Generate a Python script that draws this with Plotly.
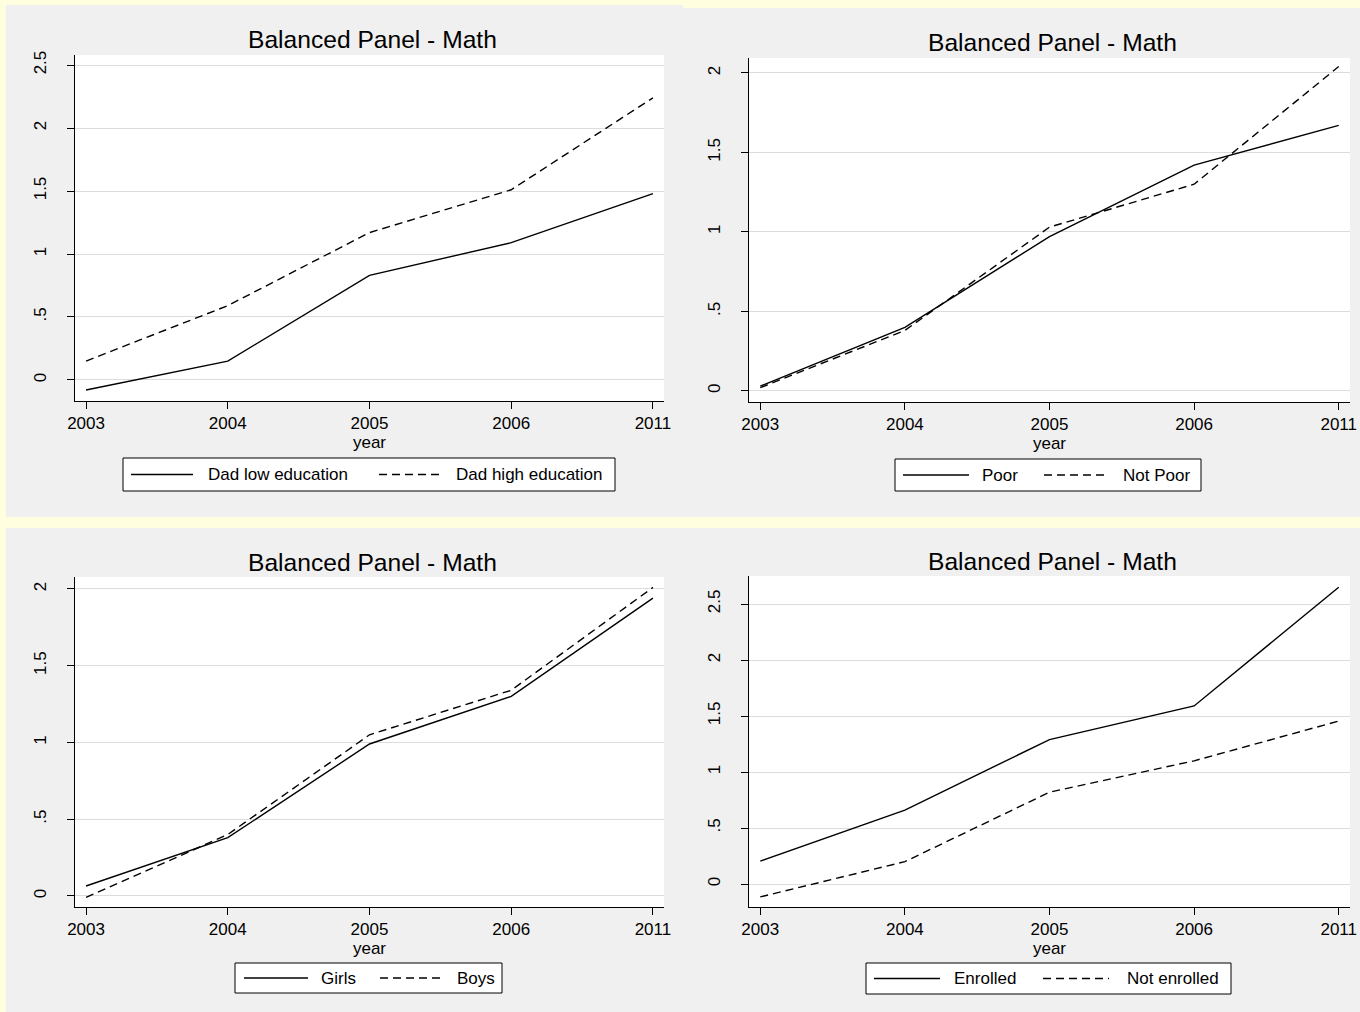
import plotly.graph_objects as go

W, H = 1360, 1012

# ---- data -----------------------------------------------------------------
years = ["2003", "2004", "2005", "2006", "2011"]

dad_low = [-0.08, 0.15, 0.83, 1.09, 1.48]
dad_high = [0.15, 0.59, 1.17, 1.51, 2.24]

poor = [0.03, 0.40, 0.97, 1.42, 1.67]
not_poor = [0.02, 0.38, 1.03, 1.30, 2.04]

girls = [0.065, 0.38, 0.99, 1.30, 1.94]
boys = [-0.01, 0.40, 1.05, 1.34, 2.01]

enrolled = [0.205, 0.66, 1.29, 1.59, 2.65]
not_enrolled = [-0.115, 0.20, 0.82, 1.10, 1.455]

ticks_to_2 = [0, 0.5, 1, 1.5, 2]
ticks_to_25 = [0, 0.5, 1, 1.5, 2, 2.5]

panel_title = "Balanced Panel - Math"
x_title = "year"

# ---- styling --------------------------------------------------------------
FONT = "Liberation Sans, Arial, sans-serif"
BG_OUTER = "#FFFFE0"
BG_PANEL = "#F0F0F0"
GRID = "#DCDCDC"
DASH = "8px,5px"
LW = 1.4


def px(x):
    return x / W


def py(y):
    return 1 - y / H


def fmt(v):
    s = f"{v:g}"
    return s[1:] if s.startswith("0.") else s


# pixel boxes: plot area (x0, x1, ytop, ybottom), y range, legend layout
panels = [
    dict(series=[("Dad low education", dad_low, "solid"),
                 ("Dad high education", dad_high, DASH)],
         yticks=ticks_to_25, yrange=[-0.167, 2.58],
         plot=(75, 664, 55, 401),
         legend=dict(box=(123, 615, 458, 491),
                     items=[(131, 193, 206), (379, 442, 454)])),
    dict(series=[("Poor", poor, "solid"),
                 ("Not Poor", not_poor, DASH)],
         yticks=ticks_to_2, yrange=[-0.07, 2.094],
         plot=(749, 1350, 58, 402),
         legend=dict(box=(895, 1201, 459, 491),
                     items=[(903, 969, 980), (1044, 1109, 1121)])),
    dict(series=[("Girls", girls, "solid"),
                 ("Boys", boys, DASH)],
         yticks=ticks_to_2, yrange=[-0.072, 2.078],
         plot=(75, 664, 577, 907),
         legend=dict(box=(235, 502, 963, 993),
                     items=[(244, 308, 319), (380, 444, 455)])),
    dict(series=[("Enrolled", enrolled, "solid"),
                 ("Not enrolled", not_enrolled, DASH)],
         yticks=ticks_to_25, yrange=[-0.205, 2.75],
         plot=(749, 1350, 576, 907),
         legend=dict(box=(866, 1231, 963, 994),
                     items=[(874, 940, 952), (1043, 1109, 1125)])),
]

fig = go.Figure()
shapes = []
annotations = []

# grey panel backgrounds on the pale yellow page
for x0, x1, y0, y1 in [(6, 683, 5, 517), (683, 1360, 8, 517), (6, 1360, 528, 1012)]:
    shapes.append(dict(type="rect", xref="paper", yref="paper",
                       x0=px(x0), x1=px(x1), y0=py(y1), y1=py(y0),
                       fillcolor=BG_PANEL, line=dict(width=0), layer="below"))

layout_axes = {}
for i, p in enumerate(panels, start=1):
    xa = "x" if i == 1 else f"x{i}"
    ya = "y" if i == 1 else f"y{i}"
    x0, x1, yt, yb = p["plot"]

    # white plot region
    shapes.append(dict(type="rect", xref="paper", yref="paper",
                       x0=px(x0), x1=px(x1), y0=py(yb), y1=py(yt),
                       fillcolor="white", line=dict(width=0), layer="below"))

    for name, vals, dash in p["series"]:
        fig.add_trace(go.Scatter(x=years, y=vals, mode="lines", name=name,
                                 line=dict(color="black", width=LW, dash=dash),
                                 xaxis=xa, yaxis=ya, showlegend=False,
                                 hoverinfo="x+y+name"))

    layout_axes["xaxis" if i == 1 else f"xaxis{i}"] = dict(
        domain=[px(x0), px(x1)], anchor=ya, type="category",
        categoryorder="array", categoryarray=years, automargin=False,
        range=[-0.078, 4.078], showline=True, linecolor="black", linewidth=1,
        ticks="outside", ticklen=7, tickcolor="black", tickwidth=1,
        showgrid=False, zeroline=False,
        tickfont=dict(family=FONT, size=17, color="black"),
        title=dict(text=x_title, standoff=0,
                   font=dict(family=FONT, size=17, color="black")),
    )
    layout_axes["yaxis" if i == 1 else f"yaxis{i}"] = dict(
        domain=[py(yb), py(yt)], anchor=xa, range=p["yrange"], automargin=False,
        tickvals=p["yticks"], ticktext=[fmt(v) for v in p["yticks"]],
        tickangle=-90, showline=True, linecolor="black", linewidth=1,
        ticks="outside", ticklen=7, tickcolor="black", tickwidth=1,
        ticklabelstandoff=14,
        showgrid=True, gridcolor=GRID, gridwidth=1, zeroline=False,
        tickfont=dict(family=FONT, size=17, color="black"),
    )

    # panel title
    annotations.append(dict(text=panel_title, xref="paper", yref="paper",
                            x=px((x0 + x1) / 2 + 3), y=py(yt - 15),
                            xanchor="center", yanchor="middle", showarrow=False,
                            font=dict(family=FONT, size=24.6, color="black")))

    # legend box with line samples and labels
    lg = p["legend"]
    bx0, bx1, by0, by1 = lg["box"]
    shapes.append(dict(type="rect", xref="paper", yref="paper",
                       x0=px(bx0), x1=px(bx1), y0=py(by1), y1=py(by0),
                       fillcolor="white", line=dict(color="black", width=1)))
    ymid = (by0 + by1) / 2
    for (lx0, lx1, tx), (name, _, dash) in zip(lg["items"], p["series"]):
        shapes.append(dict(type="line", xref="paper", yref="paper",
                           x0=px(lx0), x1=px(lx1), y0=py(ymid), y1=py(ymid),
                           line=dict(color="black", width=LW, dash=dash)))
        annotations.append(dict(text=name, xref="paper", yref="paper",
                                x=px(tx), y=py(ymid), xanchor="left",
                                yanchor="middle", showarrow=False,
                                font=dict(family=FONT, size=17, color="black")))

fig.update_layout(
    width=W, height=H, margin=dict(l=0, r=0, t=0, b=0, autoexpand=False),
    paper_bgcolor=BG_OUTER, plot_bgcolor="white",
    font=dict(family=FONT, color="black"),
    shapes=shapes, annotations=annotations,
    **layout_axes,
)

fig.write_html("out.html")
